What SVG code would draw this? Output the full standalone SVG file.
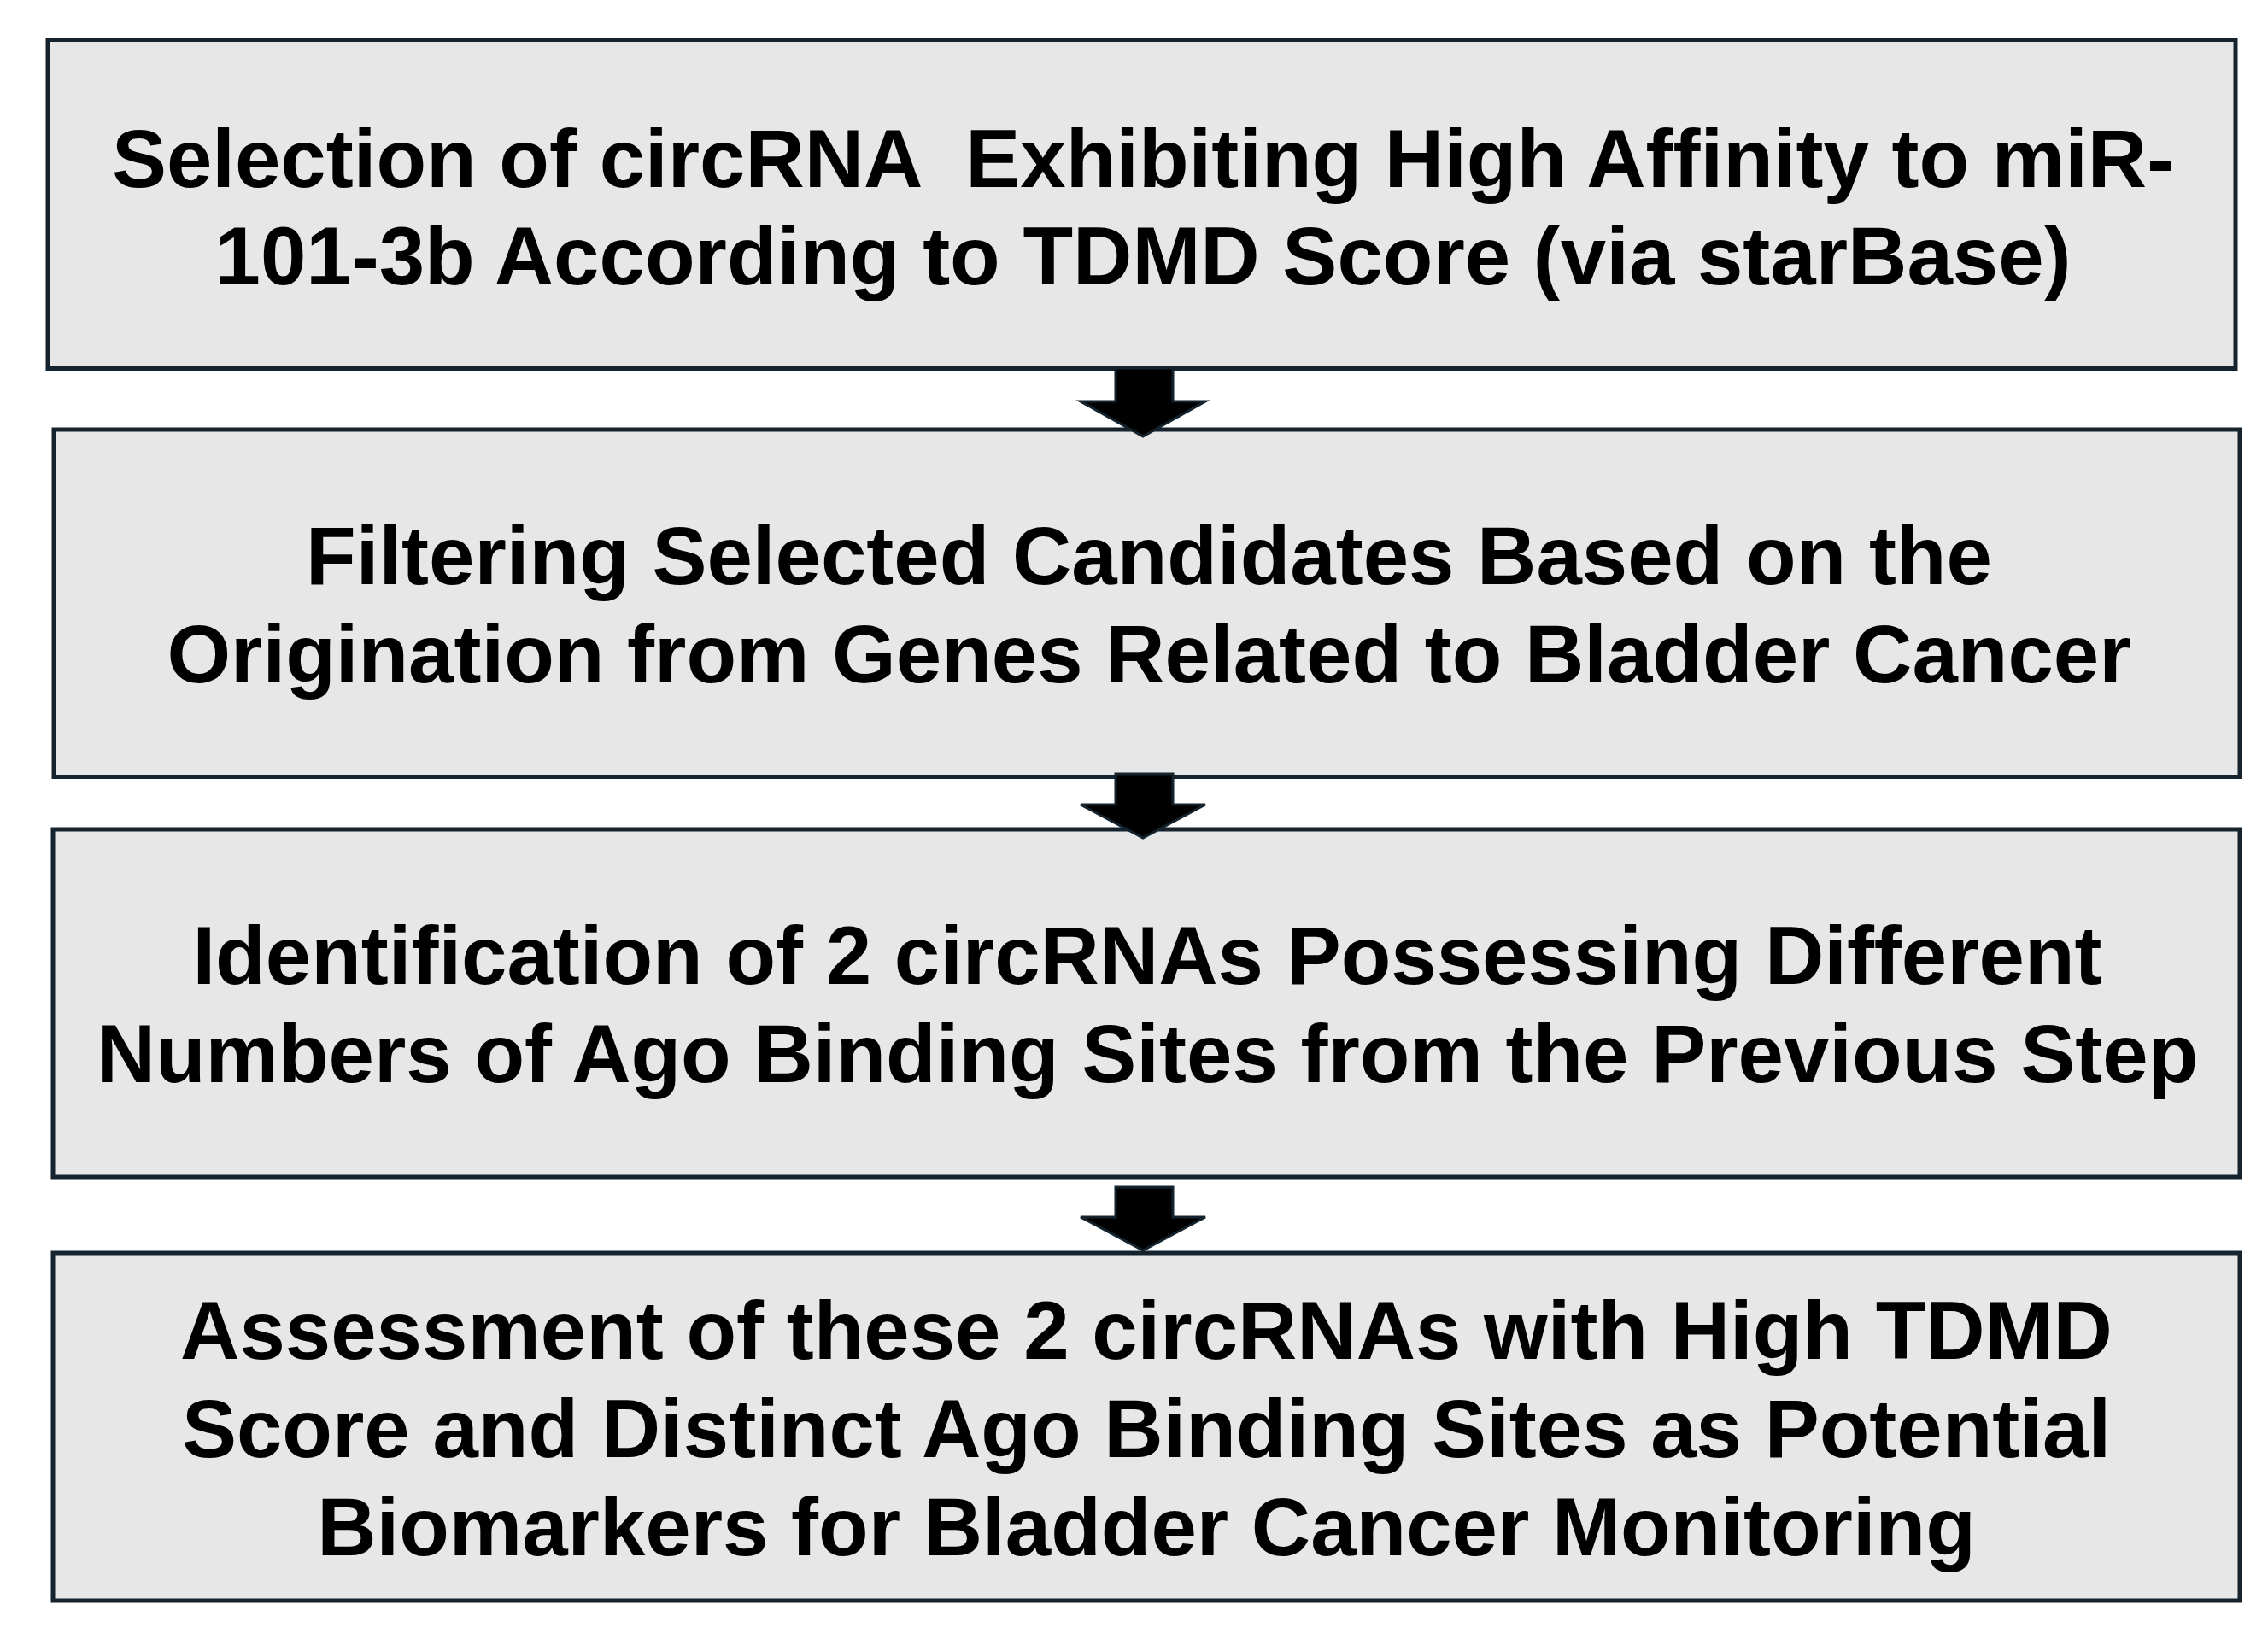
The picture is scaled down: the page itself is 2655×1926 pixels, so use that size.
<svg xmlns="http://www.w3.org/2000/svg" width="2655" height="1926" viewBox="0 0 2655 1926">
<style>
.box{fill:#e7e7e7;stroke:#14232d;stroke-width:5}
.lbl{font-family:"Liberation Sans",Arial,sans-serif;font-weight:bold;font-size:96px;fill:#000;text-anchor:middle;white-space:pre}
.arr{fill:#000;stroke:#14232d;stroke-width:3;stroke-linejoin:miter}
</style>
<rect width="2655" height="1926" fill="#ffffff"/>
<g id="node1">
<rect class="box" x="56" y="46.5" width="2561" height="385"/>
<text class="lbl" xml:space="preserve"><tspan x="1338" y="219">Selection of circRNA  Exhibiting High Affinity to miR-</tspan><tspan x="1338" y="333">101-3b According to TDMD Score (via starBase)</tspan></text>
</g>
<g id="node2">
<rect class="box" x="63" y="503" width="2559" height="406.5"/>
<text class="lbl"><tspan x="1345" y="684">Filtering Selected Candidates Based on the</tspan><tspan x="1345" y="799">Origination from Genes Related to Bladder Cancer</tspan></text>
</g>
<g id="node3">
<rect class="box" x="62" y="971" width="2560" height="407"/>
<text class="lbl"><tspan x="1343" y="1152">Identification of 2 circRNAs Possessing Different</tspan><tspan x="1343" y="1267">Numbers of Ago Binding Sites from the Previous Step</tspan></text>
</g>
<g id="node4">
<rect class="box" x="62" y="1467" width="2560" height="407"/>
<text class="lbl"><tspan x="1342" y="1591">Assessment of these 2 circRNAs with High TDMD</tspan><tspan x="1342" y="1706">Score and Distinct Ago Binding Sites as Potential</tspan><tspan x="1342" y="1821">Biomarkers for Bladder Cancer Monitoring</tspan></text>
</g>
<g id="connectors">
<polygon class="arr" points="1306,431 1373,431 1373,470 1411,470 1338,511 1265,470 1306,470"/>
<polygon class="arr" points="1306,906 1373,906 1373,942 1411,942 1338,981 1265,942 1306,942"/>
<polygon class="arr" points="1306,1390 1373,1390 1373,1425 1411,1425 1338,1464 1265,1425 1306,1425"/>
</g>
</svg>
